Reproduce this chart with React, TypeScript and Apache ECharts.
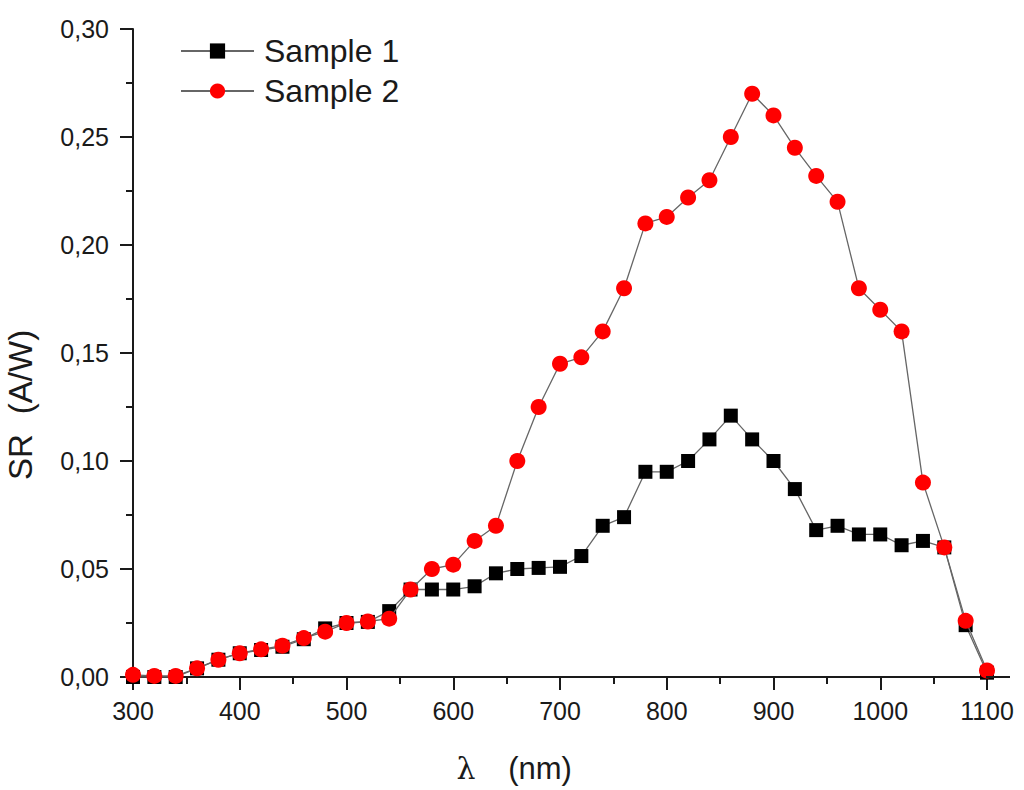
import React, { useEffect, useRef } from "react";
import * as echarts from "echarts";

const wavelengths = [
  300, 320, 340, 360, 380, 400, 420, 440, 460, 480, 500, 520, 540, 560, 580, 600, 620, 640, 660, 680,
  700, 720, 740, 760, 780, 800, 820, 840, 860, 880, 900, 920, 940, 960, 980, 1000, 1020, 1040, 1060,
  1080, 1100,
];

const sample1 = [
  0, 0, 0, 0.004, 0.008, 0.011, 0.0125, 0.014, 0.0175, 0.0225, 0.025, 0.0255, 0.0305, 0.0405, 0.0405,
  0.0405, 0.042, 0.048, 0.05, 0.0505, 0.051, 0.056, 0.07, 0.074, 0.095, 0.095, 0.1, 0.11, 0.121, 0.11,
  0.1, 0.087, 0.068, 0.07, 0.066, 0.066, 0.061, 0.063, 0.06, 0.024, 0.002,
];

const sample2 = [
  0.001, 0.0005, 0.0005, 0.004, 0.008, 0.011, 0.0128, 0.0145, 0.018, 0.021, 0.025, 0.0257, 0.027,
  0.0405, 0.05, 0.052, 0.063, 0.07, 0.1, 0.125, 0.145, 0.148, 0.16, 0.18, 0.21, 0.213, 0.222, 0.23,
  0.25, 0.27, 0.26, 0.245, 0.232, 0.22, 0.18, 0.17, 0.16, 0.09, 0.06, 0.026, 0.003,
];

const seriesNames = ["Sample 1", "Sample 2"];

const FONT = "Liberation Sans, Arial, Helvetica, sans-serif";

export default function App() {
  const ref = useRef<HTMLDivElement>(null);

  useEffect(() => {
    document.body.style.margin = "0";
    if (!ref.current) return;
    const chart = echarts.init(ref.current, null, { renderer: "svg" });

    const pair = (vals: number[]) => wavelengths.map((w, i) => [w, vals[i]]);

    chart.setOption({
      animation: false,
      backgroundColor: "#ffffff",
      grid: { left: 133, top: 29, right: 37, bottom: 113, containLabel: false },
      legend: {
        left: 175,
        top: 30,
        orient: "vertical",
        itemWidth: 73,
        itemHeight: 19,
        itemGap: 8,
        data: seriesNames,
        textStyle: {
          fontFamily: FONT,
          fontSize: 32,
          color: "#1a1a1a",
          padding: [0, 0, 0, 5],
        },
      },
      xAxis: {
        type: "value",
        min: 300,
        max: 1100,
        interval: 100,
        axisLine: { show: true, lineStyle: { color: "#1a1a1a", width: 2 } },
        axisTick: { show: true, inside: false, length: 13, lineStyle: { color: "#1a1a1a", width: 2 } },
        minorTick: { show: true, splitNumber: 2, length: 7, lineStyle: { color: "#1a1a1a", width: 2 } },
        splitLine: { show: false },
        axisLabel: {
          fontFamily: FONT,
          fontSize: 25,
          color: "#1a1a1a",
          margin: 21,
          formatter: (v: number) => String(v),
        },
      },
      yAxis: {
        type: "value",
        min: 0,
        max: 0.3,
        interval: 0.05,
        axisLine: { show: true, lineStyle: { color: "#1a1a1a", width: 2 } },
        axisTick: { show: true, inside: false, length: 13, lineStyle: { color: "#1a1a1a", width: 2 } },
        minorTick: { show: true, splitNumber: 2, length: 7, lineStyle: { color: "#1a1a1a", width: 2 } },
        splitLine: { show: false },
        axisLabel: {
          fontFamily: FONT,
          fontSize: 25,
          color: "#1a1a1a",
          margin: 24,
          formatter: (v: number) => v.toFixed(2).replace(".", ","),
        },
      },
      graphic: [
        {
          type: "line",
          shape: { x1: 986, y1: 677, x2: 1010, y2: 677 },
          style: { stroke: "#1a1a1a", lineWidth: 2 },
          z: 10,
        },
        {
          type: "text",
          x: 20,
          y: 457,
          rotation: Math.PI / 2,
          style: {
            text: "SR",
            fontFamily: FONT,
            fontSize: 33,
            fill: "#1a1a1a",
            textAlign: "center",
            textVerticalAlign: "middle",
          },
        },
        {
          type: "text",
          x: 20,
          y: 372,
          rotation: Math.PI / 2,
          style: {
            text: "(A/W)",
            fontFamily: FONT,
            fontSize: 33,
            fill: "#1a1a1a",
            textAlign: "center",
            textVerticalAlign: "middle",
          },
        },
        {
          type: "text",
          x: 466,
          y: 768,
          style: {
            text: "λ",
            fontFamily: "DejaVu Serif, serif",
            fontSize: 30,
            fill: "#1a1a1a",
            textAlign: "center",
            textVerticalAlign: "middle",
          },
        },
        {
          type: "text",
          x: 540,
          y: 768,
          style: {
            text: "(nm)",
            fontFamily: FONT,
            fontSize: 31,
            fill: "#1a1a1a",
            textAlign: "center",
            textVerticalAlign: "middle",
          },
        },
      ],
      series: [
        {
          name: seriesNames[0],
          type: "line",
          data: pair(sample1),
          symbol: "rect",
          symbolSize: 14,
          showAllSymbol: true,
          itemStyle: { color: "#000000" },
          lineStyle: { color: "#666666", width: 1.3 },
          z: 2,
        },
        {
          name: seriesNames[1],
          type: "line",
          data: pair(sample2),
          symbol: "circle",
          symbolSize: 16,
          showAllSymbol: true,
          itemStyle: { color: "#ff0000" },
          lineStyle: { color: "#666666", width: 1.3 },
          z: 3,
        },
      ],
    });

    return () => chart.dispose();
  }, []);

  return <div ref={ref} style={{ width: 1024, height: 790 }} />;
}
